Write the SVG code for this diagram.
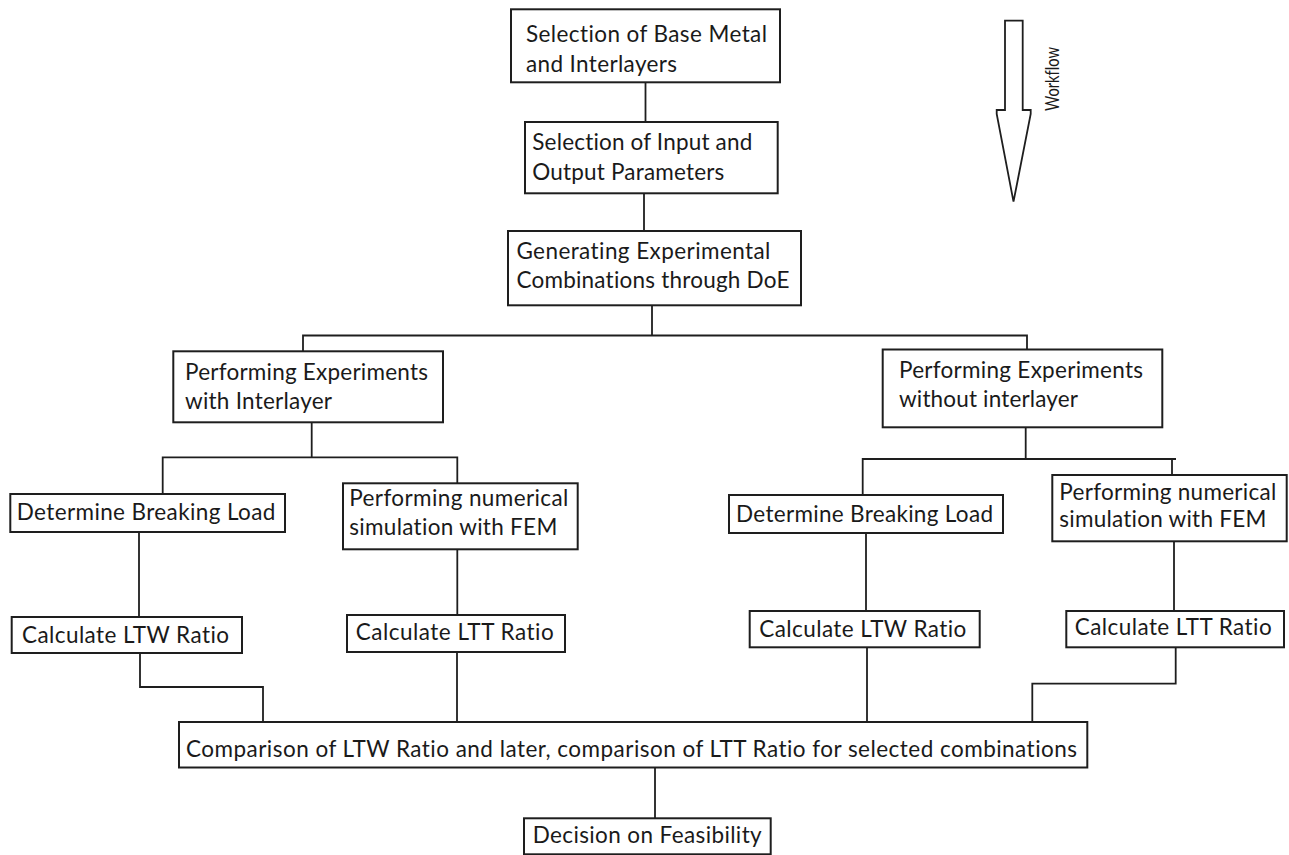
<svg xmlns="http://www.w3.org/2000/svg" width="1289" height="855" viewBox="0 0 1289 855">
<style>
.box{fill:#fff;stroke:#1e1e1e;stroke-width:2}
.ln{fill:none;stroke:#1e1e1e;stroke-width:1.8}
.t{font-family:Lato,"Open Sans","Liberation Sans",sans-serif;font-size:22.5px;fill:#1a1a1a;font-variant-ligatures:none}
.wf{font-family:Lato,"Liberation Sans",sans-serif;font-size:20px;fill:#1a1a1a;font-variant-ligatures:none}
</style>
<rect width="1289" height="855" fill="#fff"/>
<g id="connectors">
<path class="ln" d="M645.5 82V122"/>
<path class="ln" d="M644 193V231"/>
<path class="ln" d="M652 305V335.5"/>
<path class="ln" d="M303 351.3V335.5H1027V349.5"/>
<path class="ln" d="M311.7 422.3V457.3"/>
<path class="ln" d="M162.7 494V457.3H457.3V483.3"/>
<path class="ln" d="M1025.7 427.3V459"/>
<path class="ln" d="M862.7 495V459H1176"/>
<path class="ln" d="M1172 459V475"/>
<path class="ln" d="M139 532V617"/>
<path class="ln" d="M457.3 549.3V615"/>
<path class="ln" d="M866 533V611"/>
<path class="ln" d="M1174 541.3V611"/>
<path class="ln" d="M140 653V687H263V722"/>
<path class="ln" d="M457 652V722"/>
<path class="ln" d="M867 647.3V722"/>
<path class="ln" d="M1175.7 647.3V683.7H1032.3V722"/>
<path class="ln" d="M655 767.5V818.3"/>
</g>
<g id="workflow">
<polygon class="ln" fill="#fff" points="1005,20.7 1022.7,20.7 1022.7,110 1030.7,110 1030.7,114 1013.5,201.7 996.7,114 996.7,110 1005,110"/>
<text class="wf" transform="translate(1059,111) rotate(-90)" textLength="64" lengthAdjust="spacingAndGlyphs">Workflow</text>
</g>
<g id="n1"><rect class="box" x="511" y="9.3" width="269" height="73"/>
<text class="t" x="526" y="41.7" textLength="241">Selection of Base Metal</text>
<text class="t" x="526" y="71.7" textLength="151">and Interlayers</text></g>
<g id="n2"><rect class="box" x="525" y="122" width="252.7" height="71.3"/>
<text class="t" x="532.3" y="150" textLength="220">Selection of Input and</text>
<text class="t" x="532.3" y="180" textLength="192">Output Parameters</text></g>
<g id="n3"><rect class="box" x="508" y="231" width="293" height="74.3"/>
<text class="t" x="516.4" y="259" textLength="254">Generating Experimental</text>
<text class="t" x="516.4" y="288" textLength="273">Combinations through DoE</text></g>
<g id="n4"><rect class="box" x="173.3" y="351.3" width="269.7" height="71"/>
<text class="t" x="185" y="380" textLength="243">Performing Experiments</text>
<text class="t" x="185" y="409" textLength="147">with Interlayer</text></g>
<g id="n5"><rect class="box" x="882.7" y="349.5" width="279.6" height="77.8"/>
<text class="t" x="899" y="378" textLength="244">Performing Experiments</text>
<text class="t" x="899" y="407" textLength="179">without interlayer</text></g>
<g id="n6"><rect class="box" x="10.3" y="494" width="274.7" height="38"/>
<text class="t" x="16.7" y="520" textLength="258.7">Determine Breaking Load</text></g>
<g id="n7"><rect class="box" x="343" y="483.3" width="234.7" height="66"/>
<text class="t" x="349.3" y="505.7" textLength="219">Performing numerical</text>
<text class="t" x="349.3" y="535" textLength="208">simulation with FEM</text></g>
<g id="n8"><rect class="box" x="729" y="495" width="274" height="38"/>
<text class="t" x="736" y="521.7" textLength="257">Determine Breaking Load</text></g>
<g id="n9"><rect class="box" x="1052.3" y="475" width="234.4" height="66.3"/>
<text class="t" x="1059.3" y="500" textLength="217">Performing numerical</text>
<text class="t" x="1059.3" y="527.3" textLength="207">simulation with FEM</text></g>
<g id="n10"><rect class="box" x="11.7" y="617" width="230.3" height="36"/>
<text class="t" x="22" y="642.7" textLength="207">Calculate LTW Ratio</text></g>
<g id="n11"><rect class="box" x="347" y="615" width="218" height="37"/>
<text class="t" x="355.7" y="640" textLength="198">Calculate LTT Ratio</text></g>
<g id="n13"><rect class="box" x="749.7" y="611" width="230" height="36.3"/>
<text class="t" x="759.3" y="636.7" textLength="207">Calculate LTW Ratio</text></g>
<g id="n14"><rect class="box" x="1066.3" y="611" width="217.7" height="36.3"/>
<text class="t" x="1074.7" y="635" textLength="197">Calculate LTT Ratio</text></g>
<g id="n12"><rect class="box" x="179" y="722" width="908.3" height="45.5"/>
<text class="t" x="186" y="756.7" textLength="891">Comparison of LTW Ratio and later, comparison of LTT Ratio for selected combinations</text></g>
<g id="n15"><rect class="box" x="524" y="818.3" width="246.7" height="36"/>
<text class="t" x="532.7" y="843.3" textLength="229">Decision on Feasibility</text></g>
</svg>
